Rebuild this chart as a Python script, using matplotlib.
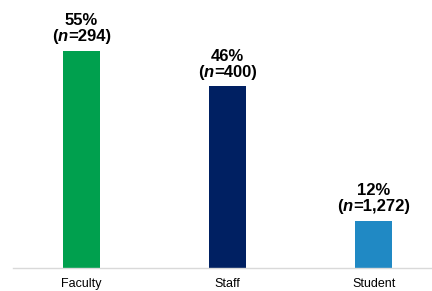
import matplotlib
matplotlib.use("Agg")
import matplotlib.pyplot as plt
from matplotlib.offsetbox import TextArea, HPacker, VPacker, AnnotationBbox

# data
categories = ["Faculty", "Staff", "Student"]
percents = [55, 46, 12]
counts = ["294", "400", "1,272"]
colors = ["#00A04E", "#002062", "#2089C4"]

plt.rcParams['font.family'] = ['Liberation Sans', 'DejaVu Sans']

fig = plt.figure(figsize=(4.32, 2.91), dpi=100)
ax = fig.add_axes([0.03, 23 / 291, 0.97, 268 / 291])

x = range(len(categories))
ax.bar(x, percents, width=0.255, color=colors)

fs = 12
bold = dict(fontsize=fs, fontweight="bold", color="black")
for i, p in enumerate(percents):
    line1 = TextArea(f"{p}%", textprops=bold)
    line2 = HPacker(children=[
        TextArea("(", textprops=bold),
        TextArea("n", textprops=dict(bold, style="italic")),
        TextArea("=" + counts[i] + ")", textprops=bold),
    ], align="baseline", pad=0, sep=0)
    box = VPacker(children=[line1, line2], align="center", pad=0, sep=1)
    ab = AnnotationBbox(box, (i, p), xybox=(0, 4.5), boxcoords="offset points",
                        box_alignment=(0.5, 0), frameon=False)
    ax.add_artist(ab)

ax.set_xlim(-0.47, 2.4)
ax.set_ylim(0, 67.8)
ax.set_xticks(list(x))
ax.set_xticklabels(categories, fontsize=9)
ax.tick_params(axis="x", length=0, pad=7.5)
ax.set_yticks([])
for s in ["top", "right", "left"]:
    ax.spines[s].set_visible(False)
ax.spines["bottom"].set_color("#d9d9d9")
ax.spines["bottom"].set_linewidth(1)

fig.savefig("out.png", dpi=100)
